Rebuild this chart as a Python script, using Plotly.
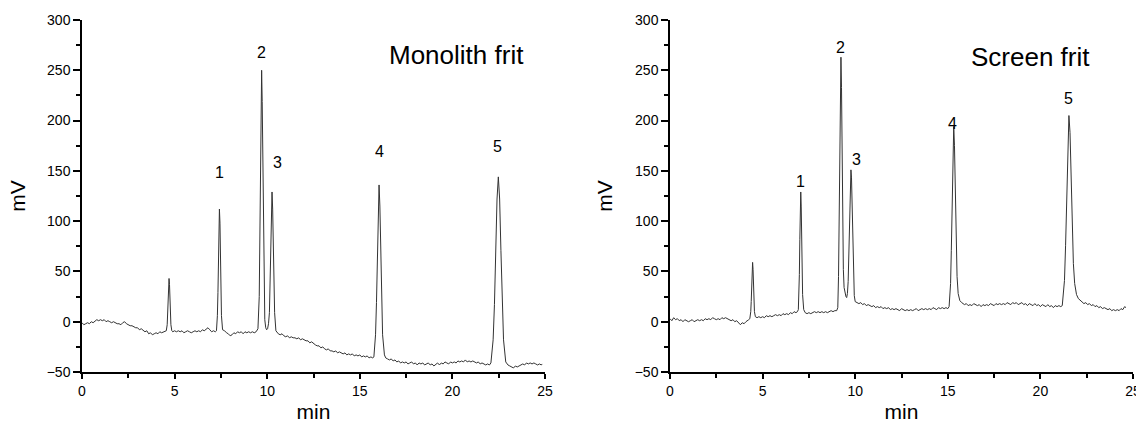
import plotly.graph_objects as go

# ---------------- data ----------------
panel_titles = ["Monolith frit", "Screen frit"]
peak_labels = ["1", "2", "3", "4", "5"]
x_ticks = [0, 5, 10, 15, 20, 25]
y_ticks = [-50, 0, 50, 100, 150, 200, 250, 300]

monolith_points = [
    (0.0, -1), (0.1, -3), (0.2, -2), (0.3, -1), (0.4, -2), (0.5, 0), (0.6, -1), (0.7, 1), (0.8, 2), (0.9, 1),
    (1.0, 2), (1.1, 1), (1.2, 2), (1.3, 0), (1.4, 1), (1.5, 0), (1.6, -1), (1.7, 0), (1.8, -1), (1.9, -2),
    (2.0, -2), (2.1, -3), (2.2, -1), (2.3, 0), (2.4, -2), (2.5, -3), (2.6, -4), (2.7, -4), (2.8, -5), (2.9, -6),
    (3.0, -6), (3.1, -8), (3.2, -7), (3.3, -9), (3.4, -10), (3.5, -9), (3.6, -12), (3.7, -11), (3.8, -13), (3.9, -12),
    (4.0, -11), (4.1, -12), (4.2, -10), (4.3, -11), (4.4, -10), (4.5, -9),
    (4.55, -9), (4.60, -3), (4.625, 7), (4.65, 22), (4.675, 37), (4.70, 43), (4.725, 37), (4.75, 22), (4.775, 7), (4.80, -3), (4.85, -9),
    (4.9, -10), (5.0, -9), (5.1, -10), (5.2, -9), (5.3, -10), (5.4, -9), (5.5, -11), (5.6, -10), (5.7, -9), (5.8, -10),
    (5.9, -11), (6.0, -10), (6.1, -9), (6.2, -10), (6.3, -9), (6.4, -10), (6.5, -8), (6.6, -9), (6.7, -7), (6.8, -6),
    (6.9, -8), (7.0, -10), (7.1, -9), (7.2, -10),
    (7.26, -9), (7.31, 6), (7.34, 29), (7.37, 65), (7.39, 98), (7.42, 112), (7.45, 98), (7.47, 65), (7.50, 29), (7.53, 6), (7.59, -8),
    (7.7, -9), (7.8, -11), (7.9, -12), (8.0, -14), (8.1, -13), (8.2, -11), (8.3, -12), (8.4, -10), (8.5, -11), (8.6, -10),
    (8.7, -12), (8.8, -10), (8.9, -11), (9.0, -10), (9.1, -11), (9.2, -10), (9.3, -11), (9.4, -10),
    (9.50, -7), (9.57, 25), (9.60, 73), (9.635, 149), (9.67, 219), (9.70, 250), (9.73, 219), (9.765, 149), (9.80, 73), (9.83, 25),
    (9.87, 2), (9.92, -6), (9.97, -8),
    (10.02, -7), (10.07, -2), (10.12, 9), (10.155, 35), (10.19, 75), (10.225, 112), (10.26, 129), (10.295, 112), (10.33, 75), (10.365, 35),
    (10.40, 9), (10.47, -9), (10.55, -11),
    (10.6, -12), (10.7, -13), (10.8, -12), (10.9, -14), (11.0, -15), (11.1, -14), (11.2, -16), (11.3, -15), (11.4, -16), (11.5, -16),
    (11.6, -17), (11.7, -16), (11.8, -18), (11.9, -17), (12.0, -18), (12.1, -19), (12.2, -19), (12.3, -21), (12.4, -20), (12.5, -22),
    (12.6, -23), (12.7, -24), (12.8, -24), (12.9, -26), (13.0, -25), (13.1, -27), (13.2, -28), (13.3, -27), (13.4, -29), (13.5, -29),
    (13.6, -30), (13.7, -29), (13.8, -31), (13.9, -30), (14.0, -31), (14.1, -32), (14.2, -31), (14.3, -33), (14.4, -32), (14.5, -33),
    (14.6, -32), (14.7, -34), (14.8, -33), (14.9, -34), (15.0, -33), (15.1, -35), (15.2, -34), (15.3, -35), (15.4, -34), (15.5, -36),
    (15.6, -35), (15.7, -36), (15.76, -35),
    (15.85, -13), (15.90, 19), (15.945, 70), (15.99, 115), (16.04, 136), (16.085, 115), (16.135, 70), (16.18, 20), (16.23, -13), (16.33, -33),
    (16.4, -36),
    (16.5, -37), (16.6, -38), (16.7, -37), (16.8, -39), (16.9, -38), (17.0, -40), (17.1, -39), (17.2, -41), (17.3, -40), (17.4, -41),
    (17.5, -40), (17.6, -42), (17.7, -41), (17.8, -40), (17.9, -42), (18.0, -41), (18.1, -43), (18.2, -41), (18.3, -42), (18.4, -41),
    (18.5, -43), (18.6, -42), (18.7, -41), (18.8, -43), (18.9, -42), (19.0, -44), (19.1, -42), (19.2, -41), (19.3, -43), (19.4, -41),
    (19.5, -42), (19.6, -40), (19.7, -41), (19.8, -42), (19.9, -40), (20.0, -41), (20.1, -40), (20.2, -41), (20.3, -39), (20.4, -40),
    (20.5, -39), (20.6, -40), (20.7, -38), (20.8, -40), (20.9, -39), (21.0, -40), (21.1, -39), (21.2, -40), (21.3, -41), (21.4, -40),
    (21.5, -42), (21.6, -41), (21.7, -42), (21.8, -43), (21.9, -42), (22.0, -43),
    (22.08, -41), (22.20, -18), (22.27, 17), (22.34, 71), (22.41, 122), (22.48, 144), (22.55, 122), (22.62, 71), (22.69, 17), (22.76, -18),
    (22.88, -40),
    (23.0, -43), (23.1, -44), (23.2, -45), (23.3, -46), (23.4, -44), (23.5, -45), (23.6, -44), (23.7, -43), (23.8, -42), (23.9, -43),
    (24.0, -41), (24.1, -42), (24.2, -41), (24.3, -42), (24.4, -41), (24.5, -42), (24.6, -43), (24.7, -42), (24.8, -43), (24.85, -42),
]

screen_points = [
    (0.0, 3), (0.1, 1), (0.2, 4), (0.3, 2), (0.4, 3), (0.5, 1), (0.6, 2), (0.7, 0), (0.8, 2), (0.9, 1),
    (1.0, 0), (1.1, 1), (1.2, 2), (1.3, 0), (1.4, 1), (1.5, 2), (1.6, 1), (1.7, 2), (1.8, 1), (1.9, 3),
    (2.0, 2), (2.1, 3), (2.2, 2), (2.3, 4), (2.4, 3), (2.5, 2), (2.6, 3), (2.7, 2), (2.8, 4), (2.9, 3),
    (3.0, 4), (3.1, 3), (3.2, 2), (3.3, 1), (3.4, 2), (3.5, 0), (3.6, 1), (3.7, -1), (3.8, -3), (3.9, -1),
    (4.0, -2), (4.1, 0), (4.2, 1), (4.25, 2),
    (4.31, 3), (4.36, 10), (4.385, 20), (4.41, 37), (4.435, 52), (4.46, 59), (4.485, 52), (4.51, 37), (4.535, 20), (4.56, 10), (4.61, 5),
    (4.7, 4), (4.8, 5), (4.9, 4), (5.0, 5), (5.1, 4), (5.2, 6), (5.3, 5), (5.4, 6), (5.5, 5), (5.6, 6),
    (5.7, 7), (5.8, 6), (5.9, 7), (6.0, 6), (6.1, 8), (6.2, 7), (6.3, 8), (6.4, 7), (6.5, 9), (6.6, 8),
    (6.7, 10), (6.8, 9), (6.88, 10),
    (6.93, 12), (6.96, 25), (6.985, 47), (7.01, 82), (7.035, 115), (7.06, 129), (7.085, 115), (7.11, 82), (7.135, 48), (7.16, 27), (7.22, 12),
    (7.3, 9), (7.4, 8), (7.5, 9), (7.6, 8), (7.7, 9), (7.8, 10), (7.9, 9), (8.0, 10), (8.1, 9), (8.2, 10),
    (8.3, 9), (8.4, 10), (8.5, 9), (8.6, 10), (8.7, 11), (8.8, 10), (8.9, 11), (9.0, 11),
    (9.06, 14), (9.10, 45), (9.13, 92), (9.165, 165), (9.20, 233), (9.23, 263), (9.26, 233), (9.295, 165), (9.33, 92), (9.36, 52),
    (9.40, 34), (9.45, 27), (9.50, 25), (9.54, 24),
    (9.58, 28), (9.62, 40), (9.655, 65), (9.69, 100), (9.73, 138), (9.77, 151), (9.80, 143), (9.835, 115), (9.87, 75), (9.90, 45),
    (9.95, 26), (10.0, 20),
    (10.1, 19), (10.2, 18), (10.3, 19), (10.4, 17), (10.5, 18), (10.6, 16), (10.7, 17), (10.8, 16), (10.9, 15), (11.0, 16),
    (11.1, 14), (11.2, 15), (11.3, 14), (11.4, 15), (11.5, 13), (11.6, 14), (11.7, 13), (11.8, 14), (11.9, 12), (12.0, 13),
    (12.1, 12), (12.2, 13), (12.3, 12), (12.4, 11), (12.5, 13), (12.6, 12), (12.7, 11), (12.8, 12), (12.9, 11), (13.0, 12),
    (13.1, 11), (13.2, 12), (13.3, 13), (13.4, 11), (13.5, 12), (13.6, 13), (13.7, 12), (13.8, 13), (13.9, 12), (14.0, 13),
    (14.1, 12), (14.2, 14), (14.3, 13), (14.4, 12), (14.5, 14), (14.6, 13), (14.7, 14), (14.8, 13), (14.9, 14), (15.0, 13),
    (15.07, 15),
    (15.15, 38), (15.19, 71), (15.235, 124), (15.28, 172), (15.32, 194), (15.36, 175), (15.405, 130), (15.45, 80), (15.50, 45), (15.56, 28),
    (15.65, 21), (15.75, 19),
    (15.8, 18), (15.9, 17), (16.0, 18), (16.1, 16), (16.2, 17), (16.3, 16), (16.4, 18), (16.5, 17), (16.6, 16), (16.7, 17),
    (16.8, 15), (16.9, 17), (17.0, 16), (17.1, 17), (17.2, 16), (17.3, 18), (17.4, 17), (17.5, 16), (17.6, 18), (17.7, 17),
    (17.8, 18), (17.9, 17), (18.0, 18), (18.1, 17), (18.2, 19), (18.3, 18), (18.4, 17), (18.5, 19), (18.6, 18), (18.7, 19),
    (18.8, 17), (18.9, 18), (19.0, 19), (19.1, 17), (19.2, 18), (19.3, 16), (19.4, 18), (19.5, 17), (19.6, 16), (19.7, 18),
    (19.8, 16), (19.9, 17), (20.0, 15), (20.1, 17), (20.2, 16), (20.3, 15), (20.4, 17), (20.5, 15), (20.6, 16), (20.7, 14),
    (20.8, 16), (20.9, 15), (21.0, 16), (21.1, 15), (21.18, 16),
    (21.30, 41), (21.36, 76), (21.42, 131), (21.48, 182), (21.54, 205), (21.60, 188), (21.66, 145), (21.72, 95), (21.78, 58), (21.85, 38),
    (21.95, 27), (22.05, 23),
    (22.15, 21), (22.25, 20), (22.35, 18), (22.45, 19), (22.55, 17), (22.65, 18), (22.75, 16), (22.85, 17), (22.95, 15), (23.05, 16),
    (23.15, 14), (23.25, 15), (23.35, 13), (23.45, 14), (23.55, 13), (23.65, 12), (23.75, 13), (23.85, 11), (23.95, 12), (24.05, 11),
    (24.15, 12), (24.25, 11), (24.35, 13), (24.45, 12), (24.55, 15), (24.62, 14),
]

monolith_min = [p[0] for p in monolith_points]
monolith_mv = [p[1] for p in monolith_points]
screen_min = [p[0] for p in screen_points]
screen_mv = [p[1] for p in screen_points]

# label anchor positions (data coordinates)
monolith_label_x = [7.40, 9.67, 10.57, 16.04, 22.41]
monolith_label_y = [148, 268, 158, 169, 174]
screen_label_x = [7.02, 9.18, 10.08, 15.23, 21.54]
screen_label_y = [139, 273, 161, 197, 222]
title_pos = [(20.2, 265), (19.45, 263)]

# ---------------- figure ----------------
W, H = 1136, 423
FONT = "Arial, Liberation Sans, Helvetica, sans-serif"
LINE_COL = "#333333"

fig = go.Figure()
fig.add_trace(go.Scatter(x=monolith_min, y=monolith_mv, mode="lines",
                         line=dict(color=LINE_COL, width=1), xaxis="x", yaxis="y",
                         showlegend=False, hoverinfo="skip"))
fig.add_trace(go.Scatter(x=screen_min, y=screen_mv, mode="lines",
                         line=dict(color=LINE_COL, width=1), xaxis="x2", yaxis="y2",
                         showlegend=False, hoverinfo="skip"))

y_dom = [1 - 372 / H, 1 - 20 / H]
x_doms = [[82 / W, 545 / W], [670 / W, 1133 / W]]

def xaxis_cfg(dom, anchor):
    return dict(domain=dom, anchor=anchor, range=[0, 25], tickvals=x_ticks, automargin=False,
                ticklabeloverflow="allow",
                showline=True, linecolor="black", linewidth=1.5, mirror=False,
                ticks="outside", ticklen=5, tickwidth=1.5, tickcolor="black",
                minor=dict(ticks="outside", ticklen=4, tickwidth=1.5, tickcolor="black", dtick=2.5, showgrid=False),
                showgrid=False, zeroline=False,
                tickfont=dict(family=FONT, size=14, color="black"),
                title=dict(text="min", font=dict(family=FONT, size=21, color="black"), standoff=10))

def yaxis_cfg(anchor, standoff):
    return dict(domain=y_dom, anchor=anchor, range=[-50, 300], tickvals=y_ticks, automargin=False,
                ticklabeloverflow="allow",
                showline=True, linecolor="black", linewidth=1.5, mirror=False,
                ticks="outside", ticklen=7, tickwidth=1.5, tickcolor="black",
                minor=dict(ticks="outside", ticklen=4, tickwidth=1.5, tickcolor="black", dtick=25, showgrid=False),
                showgrid=False, zeroline=False,
                tickfont=dict(family=FONT, size=14, color="black"),
                title=dict(text="mV", font=dict(family=FONT, size=21, color="black"), standoff=standoff))

annotations = []
for xr, yr, lx, ly, title, tp in [
    ("x", "y", monolith_label_x, monolith_label_y, panel_titles[0], title_pos[0]),
    ("x2", "y2", screen_label_x, screen_label_y, panel_titles[1], title_pos[1]),
]:
    for lab, ax_, ay_ in zip(peak_labels, lx, ly):
        annotations.append(dict(x=ax_, y=ay_, xref=xr, yref=yr, text=lab, showarrow=False,
                                font=dict(family=FONT, size=16, color="black")))
    annotations.append(dict(x=tp[0], y=tp[1], xref=xr, yref=yr, text=title, showarrow=False,
                            font=dict(family=FONT, size=26, color="black")))

fig.update_layout(
    width=W, height=H,
    margin=dict(l=0, r=0, t=0, b=0, autoexpand=False),
    paper_bgcolor="white", plot_bgcolor="white",
    xaxis=xaxis_cfg(x_doms[0], "y"),
    yaxis=yaxis_cfg("x", 15),
    xaxis2=xaxis_cfg(x_doms[1], "y2"),
    yaxis2=yaxis_cfg("x2", 16),
    annotations=annotations,
    font=dict(family=FONT, color="black"),
)

# remove the browser's default 8px body margin so the figure fills the window exactly
fig.write_html("out.html", config={"displayModeBar": False},
               post_script="document.body.style.margin='0';document.body.style.overflow='hidden';")
